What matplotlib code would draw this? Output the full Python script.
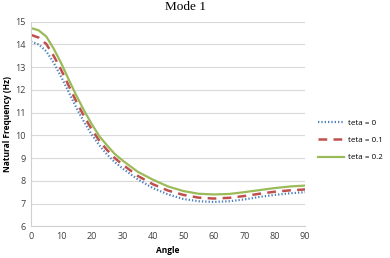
import matplotlib
matplotlib.use("Agg")
import matplotlib.pyplot as plt

angle = [0, 2.5, 5, 7.5, 10, 12.5, 15, 17.5, 20, 22.5, 25, 27.5, 30,
         35, 40, 45, 50, 55, 60, 65, 70, 75, 80, 85, 90]
teta_0 = [14.12, 14.0, 13.7, 13.18, 12.55, 11.87, 11.18, 10.57, 10.02, 9.55, 9.15, 8.82, 8.55,
          8.07, 7.68, 7.4, 7.2, 7.1, 7.07, 7.1, 7.18, 7.29, 7.38, 7.45, 7.5]
teta_01 = [14.42, 14.3, 14.02, 13.48, 12.85, 12.15, 11.45, 10.82, 10.25, 9.75, 9.35, 9.0, 8.72,
           8.22, 7.85, 7.57, 7.38, 7.26, 7.22, 7.25, 7.33, 7.43, 7.52, 7.58, 7.62]
teta_02 = [14.72, 14.62, 14.35, 13.8, 13.15, 12.42, 11.72, 11.07, 10.48, 9.95, 9.55, 9.18, 8.9,
           8.4, 8.05, 7.75, 7.55, 7.43, 7.4, 7.42, 7.5, 7.59, 7.68, 7.75, 7.79]

plt.rcParams['font.family'] = ['Open Sans', 'DejaVu Sans']

fig = plt.figure(figsize=(3.9, 2.58), dpi=100)
ax = fig.add_axes([0.0795, 0.123, 0.703, 0.793])

ax.plot(angle, teta_0, color='#4F81BD', lw=1.6, ls=(0, (0.6, 0.9)), label='teta = 0')
ax.plot(angle, teta_01, color='#C0504D', lw=1.8, ls=(0, (3.5, 2.5)), label='teta = 0.1')
ax.plot(angle, teta_02, color='#9BBB59', lw=1.6, label='teta = 0.2')

ax.set_xlim(0, 90)
ax.set_ylim(6, 15)
ax.set_xticks(range(0, 91, 10))
ax.set_yticks(range(6, 16))
ax.grid(axis='y', color='#D9D9D9', lw=0.8)
ax.set_axisbelow(True)
for s in ['top', 'right']:
    ax.spines[s].set_visible(False)
for s in ['left', 'bottom']:
    ax.spines[s].set_color('#D0D0D0')
ax.tick_params(length=0, labelsize=6.5, labelcolor='#404040', pad=4)

ax.set_xlabel('Angle', fontsize=6, fontweight='bold', labelpad=4)
ax.set_ylabel('Natural Frequency (Hz)', fontsize=6, fontweight='bold', labelpad=2)
fig.text(0.475, 0.998, 'Mode 1', family='Liberation Serif', fontsize=9.5, ha='center', va='top')

ax.legend(loc='center left', bbox_to_anchor=(1.02, 0.42), frameon=False, fontsize=5.8,
          handlelength=3.2, labelspacing=1.2, handletextpad=0.5)

fig.savefig('out.png', dpi=100)
